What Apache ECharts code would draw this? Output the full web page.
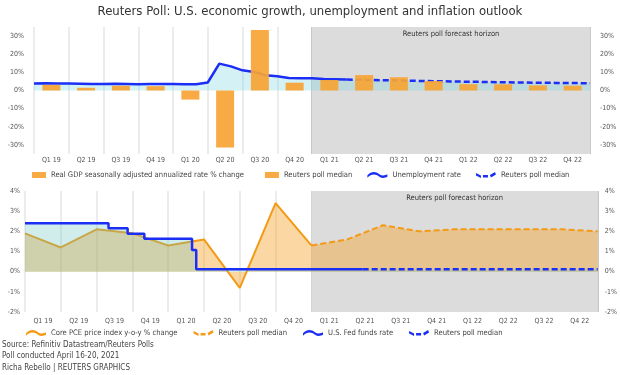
<!DOCTYPE html>
<html>
<head>
<meta charset="utf-8">
<script src="https://cdn.jsdelivr.net/npm/echarts@6/dist/echarts.min.js"></script>
<style>
  html, body { margin: 0; padding: 0; background: #fff; }
  #chart { width: 620px; height: 375px; }
</style>
</head>
<body>
<div id="chart"></div>
<script>
// quarters shown on both panels
var quarters = ['Q1 19', 'Q2 19', 'Q3 19', 'Q4 19', 'Q1 20', 'Q2 20', 'Q3 20', 'Q4 20',
  'Q1 21', 'Q2 21', 'Q3 21', 'Q4 21', 'Q1 22', 'Q2 22', 'Q3 22', 'Q4 22'];

// GDP, annualized % change (actual, then poll median)
var gdpActual = [3.1, 1.5, 2.6, 2.4, -5.0, -31.4, 33.4, 4.3, null, null, null, null, null, null, null, null];
var gdpPoll = [null, null, null, null, null, null, null, null, 5.8, 8.5, 7.3, 5.2, 3.5, 3.4, 2.8, 2.6];

// unemployment rate, monthly from Dec 18 (month 0 = start of Q1 19)
var unempRate = [3.9, 4.0, 3.8, 3.8, 3.7, 3.6, 3.6, 3.7, 3.6, 3.5, 3.6, 3.6, 3.6, 3.5, 3.5, 4.4,
  14.8, 13.3, 11.1, 10.2, 8.4, 7.9, 6.9, 6.7, 6.7, 6.3, 6.2, 6.0];
var unempPollMonth = [27, 30, 33, 36, 39, 42, 45, 48];
var unempPoll = [6.0, 5.7, 5.3, 5.0, 4.7, 4.4, 4.2, 4.0];

// core PCE
var pceMonth = [0, 3, 6, 9, 10, 12, 15, 18, 21, 24];
var pce = [1.9, 1.2, 2.1, 1.9, 1.7, 1.3, 1.6, -0.8, 3.4, 1.3];
var pcePollMonth = [24, 27, 30, 33, 36, 39, 42, 45, 48];
var pcePoll = [1.3, 1.6, 2.3, 2.0, 2.1, 2.1, 2.1, 2.1, 2.0];

// fed funds rate (step changes)
var fedMonth = [0, 7, 8.6, 10, 14, 14.35, 28.3];
var fedRate = [2.4, 2.15, 1.88, 1.63, 1.08, 0.12, 0.12];
var fedPollMonth = [28.3, 48];
var fedPoll = [0.12, 0.12];

var horizon = [24, 48];

var FONT = "'Liberation Sans Narrow','DejaVu Sans Condensed',Roboto,sans-serif";
var ORANGE = '#f7a536';
var ORANGE_LINE = '#f39a17';
var BLUE = '#1a2ef5';
var CYAN = 'rgba(120,210,225,0.45)';
var CYAN_TOP = 'rgba(105,195,190,0.44)';
var ORANGE_AREA = 'rgba(245,160,35,0.6)';

var labels = {
  gdp: 'Real GDP seasonally adjusted annualized rate % change',
  gdpPoll: 'Reuters poll median',
  unemp: 'Unemployment rate',
  unempPoll: 'Reuters poll median',
  pce: 'Core PCE price index y-o-y % change',
  pcePoll: 'Reuters poll median',
  fed: 'U.S. Fed funds rate',
  fedPoll: 'Reuters poll median'
};

// legend icons, all in a 20x8 box
var BOX = 'path://M0,0 L0.01,0 L0,0.01 Z M20,8 L19.99,8 L20,7.99 Z ';
var RECT = BOX + 'M6,1 L20,1 L20,7 L6,7 Z';
var WAVE = 'path://M0,5 C4,1 8,1 12,4 C15,6 18,5 20,4 L20,6.5 C18,7.5 15,8.5 12,6.5 C8,3.5 4,3.5 0,7.5 Z';
var WAVE_DASH = 'path://M0,3 L5,5.5 L5,8 L0,5.5 Z M7,5 L12,5 L12,7.5 L7,7.5 Z M14,5 L19,2 L20,4.5 L15,7.5 Z';

function pairs(xs, ys) { return xs.map(function(x, i) { return [x, ys[i]]; }); }

var splitColors = [];
quarters.forEach(function(q, i) { splitColors.push(i < 8 ? '#ececec' : '#c9c9c9'); });
splitColors.push('#c9c9c9');

function quarterAxis(grid, margin) {
  return {
    type: 'category', gridIndex: grid, data: quarters, boundaryGap: true,
    axisLine: { show: false }, axisTick: { show: false },
    axisLabel: { color: '#555', fontSize: 7, margin: margin, interval: 0 },
    splitLine: { show: true, interval: 0, lineStyle: { color: splitColors, width: 2 } }
  };
}
function monthAxis(grid) {
  return { type: 'value', gridIndex: grid, min: 0, max: 48, show: false, splitLine: { show: false } };
}
function yAxis(grid, pos, min, max, interval, step, margin) {
  return {
    type: 'value', gridIndex: grid, position: pos, min: min, max: max, interval: interval,
    axisLine: { show: false }, axisTick: { show: false }, splitLine: { show: false },
    axisLabel: {
      color: '#555', fontSize: 7, margin: margin,
      formatter: function(v) { return v % step === 0 ? v + '%' : ''; }
    }
  };
}
function horizonSeries(xi, yi) {
  return {
    name: 'h' + xi, type: 'line', xAxisIndex: xi, yAxisIndex: yi, data: [], z: -1, silent: true,
    markArea: {
      silent: true,
      itemStyle: { color: '#dcdcdc' },
      label: { show: true, position: 'insideTop', distance: 3, color: '#333', fontSize: 7.5, fontFamily: FONT },
      data: [[{ name: 'Reuters poll forecast horizon', xAxis: horizon[0] }, { xAxis: horizon[1] }]]
    }
  };
}

var chart = echarts.init(document.getElementById('chart'));
chart.setOption({
  animation: false,
  textStyle: { fontFamily: FONT },
  title: {
    text: 'Reuters Poll: U.S. economic growth, unemployment and inflation outlook',
    left: 'center', top: 0,
    textStyle: { fontSize: 13, fontWeight: 'normal', color: '#333', fontFamily: FONT }
  },
  legend: [{
    left: 26, top: 171, padding: 0, itemWidth: 20, itemHeight: 8, itemGap: 15,
    textStyle: { fontSize: 7.6, color: '#444', fontFamily: FONT },
    formatter: function(n) { return labels[n]; },
    data: [
      { name: 'gdp', icon: RECT, itemStyle: { color: ORANGE, borderWidth: 0 } },
      { name: 'gdpPoll', icon: RECT, itemStyle: { color: ORANGE, borderWidth: 0 } },
      { name: 'unemp', icon: WAVE, itemStyle: { color: BLUE, borderWidth: 0 } },
      { name: 'unempPoll', icon: WAVE_DASH, itemStyle: { color: BLUE, borderWidth: 0 } }
    ]
  }, {
    left: 26, top: 329, padding: 0, itemWidth: 20, itemHeight: 8, itemGap: 16,
    textStyle: { fontSize: 7.6, color: '#444', fontFamily: FONT },
    formatter: function(n) { return labels[n]; },
    data: [
      { name: 'pce', icon: WAVE, itemStyle: { color: ORANGE_LINE, borderWidth: 0 } },
      { name: 'pcePoll', icon: WAVE_DASH, itemStyle: { color: ORANGE_LINE, borderWidth: 0 } },
      { name: 'fed', icon: WAVE, itemStyle: { color: BLUE, borderWidth: 0 } },
      { name: 'fedPoll', icon: WAVE_DASH, itemStyle: { color: BLUE, borderWidth: 0 } }
    ]
  }],
  grid: [
    { left: 34, right: 30, top: 27, height: 127 },
    { left: 25, right: 22, top: 191, height: 121 }
  ],
  xAxis: [quarterAxis(0, 3), monthAxis(0), quarterAxis(1, 6), monthAxis(1)],
  yAxis: [
    yAxis(0, 'left', -35, 35, 5, 10, 10),
    yAxis(0, 'right', -35, 35, 5, 10, 10),
    yAxis(1, 'left', -2, 4, 1, 1, 5),
    yAxis(1, 'right', -2, 4, 1, 1, 7)
  ],
  graphic: [
    { type: 'text', left: 2, top: 341, style: { text: 'Source: Refinitiv Datastream/Reuters Polls', fontSize: 8, fill: '#444', fontFamily: FONT } },
    { type: 'text', left: 2, top: 352, style: { text: 'Poll conducted April 16-20, 2021', fontSize: 8, fill: '#444', fontFamily: FONT } },
    { type: 'text', left: 2, top: 364, style: { text: 'Richa Rebello | REUTERS GRAPHICS', fontSize: 8, fill: '#444', fontFamily: FONT } }
  ],
  series: [
    horizonSeries(1, 0),
    {
      name: 'unemp', type: 'line', xAxisIndex: 1, yAxisIndex: 0, data: pairs(unempRate.map(function(v, i) { return i; }), unempRate),
      symbol: 'none', lineStyle: { color: BLUE, width: 2.5 }, itemStyle: { color: BLUE },
      areaStyle: { color: CYAN }, z: 2
    },
    {
      name: 'unempPoll', type: 'line', xAxisIndex: 1, yAxisIndex: 0, data: pairs(unempPollMonth, unempPoll),
      symbol: 'none', lineStyle: { color: BLUE, width: 2.5, type: [6, 3] }, itemStyle: { color: BLUE },
      areaStyle: { color: CYAN }, z: 2
    },
    {
      name: 'gdp', type: 'bar', xAxisIndex: 0, yAxisIndex: 0, data: gdpActual, barWidth: 18, barGap: '-100%',
      itemStyle: { color: ORANGE, opacity: 0.93 }, z: 3
    },
    {
      name: 'gdpPoll', type: 'bar', xAxisIndex: 0, yAxisIndex: 0, data: gdpPoll, barWidth: 18, barGap: '-100%',
      itemStyle: { color: ORANGE, opacity: 0.93 }, z: 3
    },
    horizonSeries(3, 2),
    {
      name: 'pce', type: 'line', xAxisIndex: 3, yAxisIndex: 2, data: pairs(pceMonth, pce),
      symbol: 'none', lineStyle: { color: ORANGE_LINE, width: 2 }, itemStyle: { color: ORANGE_LINE },
      areaStyle: { color: ORANGE_AREA }, z: 2
    },
    {
      name: 'pcePoll', type: 'line', xAxisIndex: 3, yAxisIndex: 2, data: pairs(pcePollMonth, pcePoll),
      symbol: 'none', lineStyle: { color: ORANGE_LINE, width: 2, type: [6, 3] }, itemStyle: { color: ORANGE_LINE },
      areaStyle: { color: ORANGE_AREA }, z: 2
    },
    {
      name: 'fed', type: 'line', step: 'end', xAxisIndex: 3, yAxisIndex: 2, data: pairs(fedMonth, fedRate),
      symbol: 'none', lineStyle: { color: BLUE, width: 2.5 }, itemStyle: { color: BLUE },
      areaStyle: { color: CYAN_TOP }, z: 3
    },
    {
      name: 'fedPoll', type: 'line', xAxisIndex: 3, yAxisIndex: 2, data: pairs(fedPollMonth, fedPoll),
      symbol: 'none', lineStyle: { color: BLUE, width: 2.5, type: [6, 3] }, itemStyle: { color: BLUE },
      areaStyle: { color: CYAN_TOP }, z: 3
    }
  ]
});
</script>
</body>
</html>
